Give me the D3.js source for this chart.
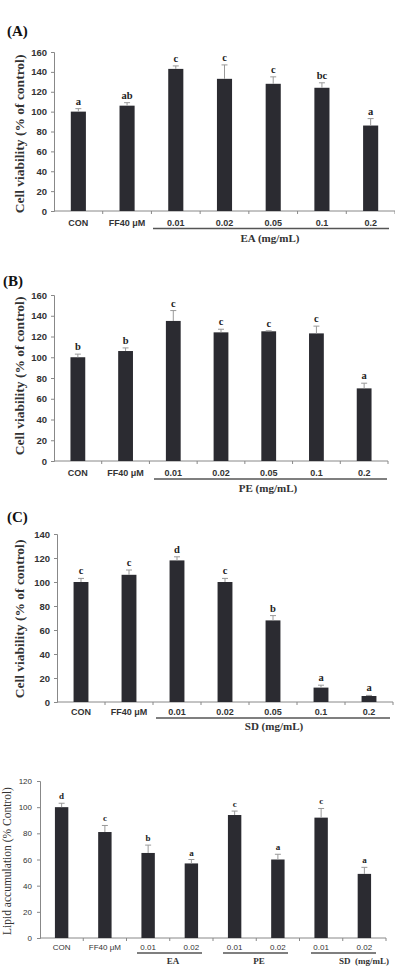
<!DOCTYPE html>
<html><head><meta charset="utf-8">
<script src="https://cdn.jsdelivr.net/npm/d3@7"></script>
<style>body{margin:0;background:#fff}svg{display:block}</style>
</head><body>
<svg id="c" width="395" height="977"></svg>
<script>
// ---- data ----
const catsV = ["CON", "FF40 μM", "0.01", "0.02", "0.05", "0.1", "0.2"];
const valsA = [100, 106, 143, 133, 128, 124, 86];
const errA  = [3, 3, 3, 14, 7, 5, 7];
const sigA  = ["a", "ab", "c", "c", "c", "bc", "a"];
const valsB = [100, 106, 135, 124, 125, 123, 70];
const errB  = [3, 3, 10, 3, 0.5, 7, 5];
const sigB  = ["b", "b", "c", "c", "c", "c", "a"];
const valsC = [100, 106, 118, 100, 68, 12, 5];
const errC  = [3, 4, 3, 3, 4, 2, 0.5];
const sigC  = ["c", "c", "d", "c", "b", "a", "a"];
const catsD = ["CON", "FF40 μM", "0.01", "0.02", "0.01", "0.02", "0.01", "0.02"];
const valsD = [100, 81, 65, 57, 94, 60, 92, 49];
const errD  = [3, 5, 6, 3, 3, 4, 7, 5];
const sigD  = ["d", "c", "b", "a", "c", "a", "c", "a"];
const ticksV = [0, 20, 40, 60, 80, 100, 120, 140, 160];
const ticksC = [0, 20, 40, 60, 80, 100, 120, 140];
const ticksD = [0, 20, 40, 60, 80, 100, 120];

const svg = d3.select("#c");
const SERIF = "'Liberation Serif','Times New Roman',serif";
const SANS = "'Liberation Sans',Arial,sans-serif";

function panel(o) {
  const g = svg.append("g");
  const x = d3.scaleBand().domain(d3.range(o.cats.length)).range([o.x0, o.x1])
    .paddingInner(o.pad).paddingOuter(o.pad / 2);
  const y = d3.scaleLinear().domain([0, o.max]).range([o.y0, o.yTop]);
  const step = x.step();
  const ya = g.append("g").attr("transform", `translate(${o.x0},0)`)
    .call(d3.axisLeft(y).tickValues(o.ticks).tickSize(3).tickPadding(o.tp));
  ya.select(".domain").attr("stroke", "#888").attr("stroke-width", 1);
  ya.selectAll(".tick line").attr("stroke", "#888");
  ya.selectAll(".tick text").attr("font-family", SANS).attr("font-size", o.tfs)
    .attr("font-weight", o.tfw).attr("fill", "#333");
  g.append("line").attr("x1", o.x0).attr("x2", o.x1).attr("y1", o.y0).attr("y2", o.y0)
    .attr("stroke", "#888").attr("stroke-width", 1);
  g.selectAll(".xt").data(d3.range(1, o.cats.length + 1)).join("line")
    .attr("x1", i => o.x0 + i * step).attr("x2", i => o.x0 + i * step)
    .attr("y1", o.y0).attr("y2", o.y0 + 3).attr("stroke", "#888");
  g.selectAll(".bar").data(o.vals).join("rect")
    .attr("x", (d, i) => x(i)).attr("width", x.bandwidth())
    .attr("y", d => y(d)).attr("height", d => o.y0 - y(d)).attr("fill", "#2b2b31");
  const eb = g.selectAll(".eb").data(o.vals).join("g");
  eb.append("line").attr("x1", (d, i) => x(i) + x.bandwidth() / 2).attr("x2", (d, i) => x(i) + x.bandwidth() / 2)
    .attr("y1", d => y(d)).attr("y2", (d, i) => y(d + o.err[i])).attr("stroke", "#999").attr("stroke-width", 1);
  eb.append("line").attr("x1", (d, i) => x(i) + x.bandwidth() / 2 - 3).attr("x2", (d, i) => x(i) + x.bandwidth() / 2 + 3)
    .attr("y1", (d, i) => y(d + o.err[i])).attr("y2", (d, i) => y(d + o.err[i])).attr("stroke", "#999").attr("stroke-width", 1);
  g.selectAll(".sig").data(o.vals).join("text")
    .attr("x", (d, i) => x(i) + x.bandwidth() / 2).attr("y", (d, i) => y(d + o.err[i]) - 4)
    .attr("text-anchor", "middle").attr("font-family", SERIF).attr("font-weight", "bold")
    .attr("font-size", o.sfs).attr("fill", "#222").text((d, i) => o.sig[i]);
  g.selectAll(".cl").data(o.cats).join("text")
    .attr("x", (d, i) => x(i) + x.bandwidth() / 2).attr("y", o.catY)
    .attr("text-anchor", "middle").attr("font-family", SANS).attr("font-size", o.cfs)
    .attr("font-weight", o.cfw).attr("fill", "#333").text(d => d);
  g.append("text").attr("transform", `translate(${o.ytX},${o.ytY}) rotate(-90)`)
    .attr("text-anchor", "middle").attr("font-family", SERIF).attr("font-weight", o.ytw)
    .attr("font-size", o.ytfs).attr("fill", "#333").text(o.ytitle);
  if (o.label) g.append("text").attr("x", o.lx).attr("y", o.ly).attr("font-family", SERIF)
    .attr("font-weight", "bold").attr("font-size", 15).attr("fill", "#111").text(o.label);
  o.groups.forEach(gr => {
    g.append("line").attr("x1", gr.a).attr("x2", gr.b).attr("y1", gr.ly).attr("y2", gr.ly)
      .attr("stroke", "#555").attr("stroke-width", 1.3);
    g.append("text").attr("x", gr.tx).attr("y", gr.ty).attr("text-anchor", gr.anchor || "middle")
      .attr("font-family", SERIF).attr("font-weight", "bold").attr("font-size", gr.fs)
      .attr("fill", "#333").attr("xml:space", "preserve").text(gr.text);
  });
}

const common = { pad: 0.69, tp: 4, tfs: 9.5, tfw: "bold", sfs: 10.5, cfs: 9, cfw: "bold",
  ytitle: "Cell viability (% of control)", ytw: "bold", ytfs: 13.5, ytX: 24 };

panel(Object.assign({}, common, { cats: catsV, vals: valsA, err: errA, sig: sigA, ticks: ticksV, max: 160,
  x0: 54, x1: 395, yTop: 52, y0: 211, catY: 226, ytY: 134, label: "(A)", lx: 7, ly: 36,
  groups: [{ a: 153, b: 389, ly: 228.5, tx: 270, ty: 242, fs: 11, text: "EA (mg/mL)" }] }));

panel(Object.assign({}, common, { cats: catsV, vals: valsB, err: errB, sig: sigB, ticks: ticksV, max: 160,
  x0: 54, x1: 388, yTop: 295, y0: 461, catY: 476, ytY: 376, label: "(B)", lx: 3, ly: 286,
  groups: [{ a: 154, b: 387, ly: 479, tx: 268, ty: 492, fs: 11, text: "PE (mg/mL)" }] }));

panel(Object.assign({}, common, { cats: catsV, vals: valsC, err: errC, sig: sigC, ticks: ticksC, max: 140,
  x0: 57, x1: 393, yTop: 534, y0: 702, catY: 715, ytY: 619, label: "(C)", lx: 7, ly: 522,
  groups: [{ a: 156, b: 390, ly: 718, tx: 274, ty: 730, fs: 11, text: "SD (mg/mL)" }] }));

panel({ cats: catsD, vals: valsD, err: errD, sig: sigD, ticks: ticksD, max: 120,
  pad: 0.69, tp: 5, tfs: 8, tfw: "normal", sfs: 9, cfs: 8, cfw: "normal",
  ytitle: "Lipid accumulation (% Control)", ytw: "normal", ytfs: 11.5, ytX: 11, ytY: 861,
  x0: 40, x1: 386, yTop: 781, y0: 938, catY: 950, label: null,
  groups: [
    { a: 137, b: 202, ly: 953, tx: 173, ty: 964, fs: 9, text: "EA" },
    { a: 223, b: 288, ly: 953, tx: 259, ty: 964, fs: 9, text: "PE" },
    { a: 311, b: 376, ly: 953, tx: 339, ty: 964, fs: 9, anchor: "start", text: "SD  (mg/mL)" }
  ] });
</script>
</body></html>
